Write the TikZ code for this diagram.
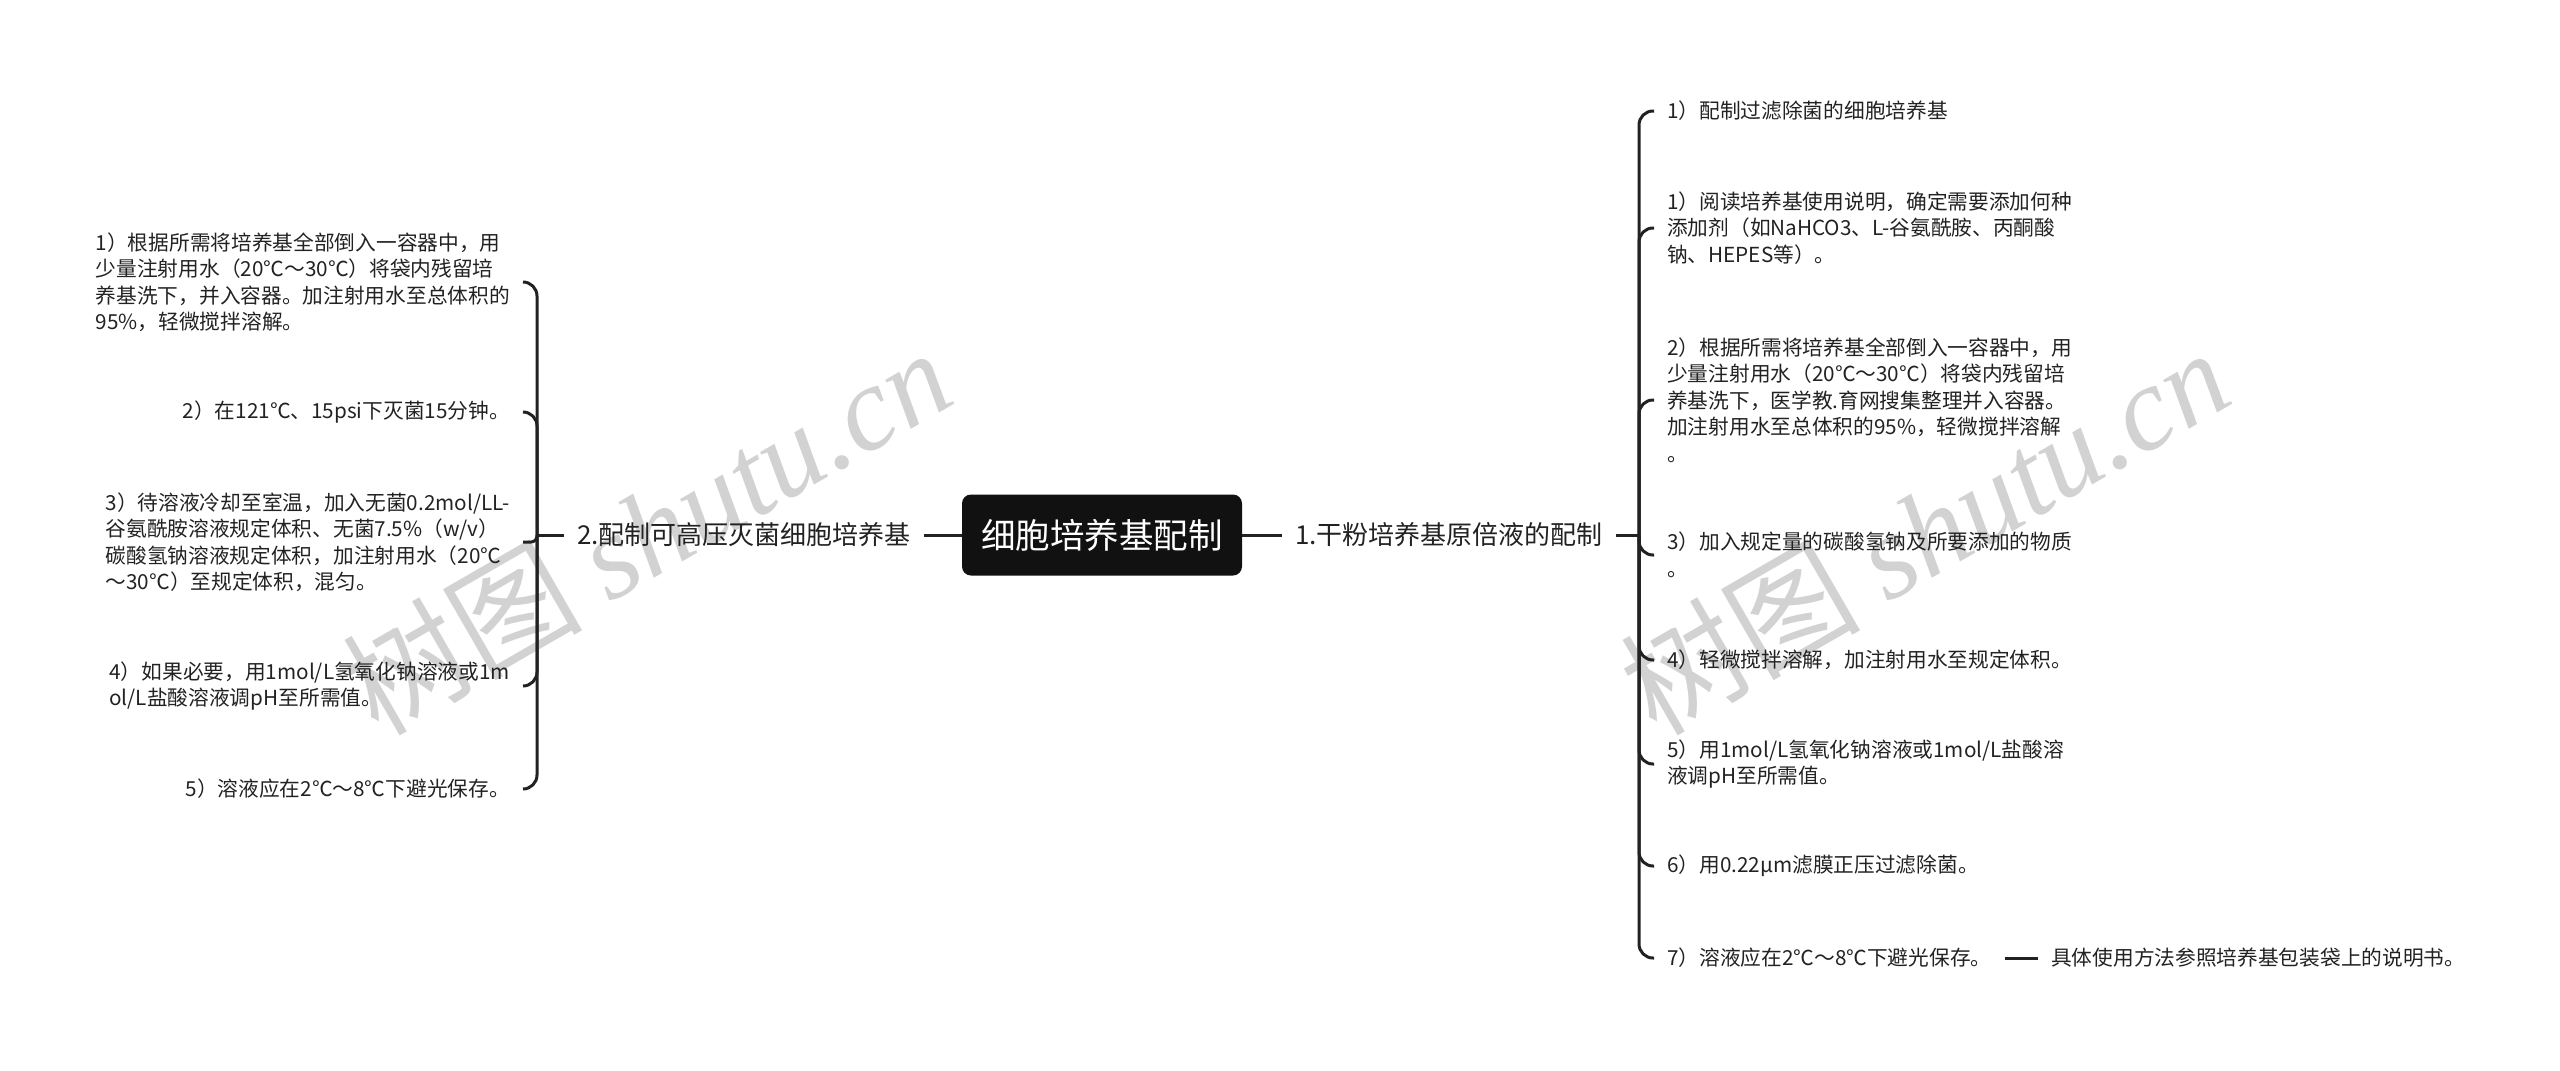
\documentclass[tikz,border=0pt]{standalone}
\usepackage{fontspec}
\setmainfont{Noto Sans CJK SC}
\newfontfamily\latinserif{Liberation Serif}
\usepackage{tikz}
\usetikzlibrary{positioning}
\definecolor{inkgrey}{RGB}{34,34,34}
\definecolor{rootblack}{RGB}{17,17,17}
\definecolor{markgrey}{RGB}{210,210,210}
\tikzset{%
    rootbox/.style={%
        draw=none, fill=rootblack, text=white, rounded corners=9pt,
        minimum width=280pt, minimum height=81pt,
        font=\fontsize{34.5}{40}\selectfont},
    branch/.style={text=inkgrey, inner xsep=13pt, inner ysep=4pt,
        font=\fontsize{26}{30}\selectfont},
    leaf/.style={text=inkgrey, align=left, inner xsep=13pt, inner ysep=3pt,
        font=\fontsize{20.7}{26.5}\selectfont},
    leafR/.style={leaf, anchor=west},
    leafL/.style={leaf, anchor=east},
    link/.style={line width=3pt, draw=inkgrey, rounded corners=14pt},
    watermark/.style={text=markgrey, rotate=30,
        font=\fontsize{120}{120}\selectfont}
}
\begin{document}
\begin{tikzpicture}[x=1pt,y=-1pt]
    \useasboundingbox (0,0) rectangle (2560,1071);
    % watermarks
    \node[watermark] (markL) at (646,530) {树图 {\latinserif\itshape shutu.cn}};
    \node[watermark] (markR) at (1924,530) {树图 {\latinserif\itshape shutu.cn}};
    % centre and the two branches
    \node[rootbox] (root) at (1102,535) {细胞培养基配制};
    \node[branch, anchor=west] (dry) at (1282,535) {1.干粉培养基原倍液的配制};
    \node[branch, anchor=east] (auto) at (924,535) {2.配制可高压灭菌细胞培养基};
    \coordinate (jR) at (1639,535);
    \coordinate (jL) at (537,535);
    \draw[link] (root.east) -- (dry.west);
    \draw[link] (dry.east) -- (jR);
    \draw[link] (root.west) -- (auto.east);
    \draw[link] (auto.west) -- (jL);
    % right leaves
    \node[leafR] (r1) at (1654,111) {1）配制过滤除菌的细胞培养基};
    \node[leafR] (r2) at (1654,228) {1）阅读培养基使用说明，确定需要添加何种\\添加剂（如NaHCO3、L-谷氨酰胺、丙酮酸\\钠、HEPES等）。};
    \node[leafR] (r3) at (1654,400) {2）根据所需将培养基全部倒入一容器中，用\\少量注射用水（20℃～30℃）将袋内残留培\\养基洗下，医学教.育网搜集整理并入容器。\\加注射用水至总体积的95\%，轻微搅拌溶解\\。};
    \node[leafR] (r4) at (1654,555) {3）加入规定量的碳酸氢钠及所要添加的物质\\。};
    \node[leafR] (r5) at (1654,660) {4）轻微搅拌溶解，加注射用水至规定体积。};
    \node[leafR] (r6) at (1654,764) {5）用1mol/L氢氧化钠溶液或1mol/L盐酸溶\\液调pH至所需值。};
    \node[leafR] (r7) at (1654,866) {6）用0.22μm滤膜正压过滤除菌。};
    \node[leafR] (r8) at (1654,958) {7）溶液应在2℃～8℃下避光保存。};
    \node[leafR] (tail) at (2038,958) {具体使用方法参照培养基包装袋上的说明书。};
    \foreach \n in {r1,r2,r3,r4,r5,r6,r7,r8}
    {
    \draw[link] (jR) |- (\n.west);
    }
    \draw[link] (r8.east) -- (tail.west);
    % left leaves
    \node[leafL] (l1) at (523,282) {1）根据所需将培养基全部倒入一容器中，用\\少量注射用水（20℃～30℃）将袋内残留培\\养基洗下，并入容器。加注射用水至总体积的\\95\%，轻微搅拌溶解。};
    \node[leafL] (l2) at (523,412) {2）在121℃、15psi下灭菌15分钟。};
    \node[leafL] (l3) at (523,542) {3）待溶液冷却至室温，加入无菌0.2mol/LL-\\谷氨酰胺溶液规定体积、无菌7.5\%（w/v）\\碳酸氢钠溶液规定体积，加注射用水（20℃\\～30℃）至规定体积，混匀。};
    \node[leafL] (l4) at (523,686) {4）如果必要，用1mol/L氢氧化钠溶液或1m\\ol/L盐酸溶液调pH至所需值。};
    \node[leafL] (l5) at (523,789) {5）溶液应在2℃～8℃下避光保存。};
    \foreach \n in {l1,l2,l4,l5}
    {
    \draw[link] (jL) |- (\n.east);
    }
    \draw[link, rounded corners=6pt] (jL) |- (l3.east);
\end{tikzpicture}
\end{document}
